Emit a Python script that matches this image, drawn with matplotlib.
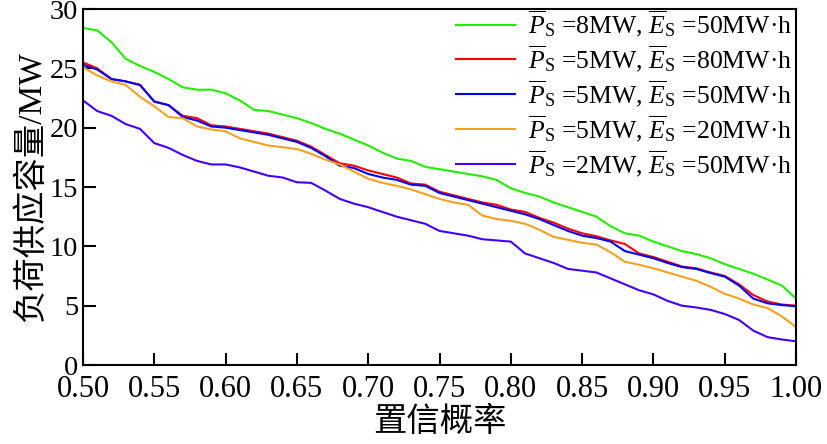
import numpy as np
import matplotlib
matplotlib.use('Agg')
import matplotlib.pyplot as plt

plt.rcParams['font.family'] = ['Liberation Serif', 'Noto Sans CJK SC']
plt.rcParams['mathtext.fontset'] = 'custom'
plt.rcParams['mathtext.rm'] = 'Liberation Serif'
plt.rcParams['mathtext.it'] = 'Liberation Serif:italic'

# 置信概率 0.50 ~ 1.00, 步长 0.01
prob = np.round(np.arange(0.50, 1.001, 0.01), 2)

# P=8MW, E=50MW·h
g_8_50 = [28.4, 28.2, 27.2, 25.8, 25.2, 24.7, 24.1, 23.4, 23.2, 23.2,
          22.9, 22.3, 21.5, 21.4, 21.1, 20.8, 20.4, 19.9, 19.5, 19.0,
          18.5, 17.9, 17.4, 17.2, 16.7, 16.5, 16.3, 16.1, 15.9, 15.6,
          14.9, 14.5, 14.2, 13.7, 13.3, 12.9, 12.5, 11.7, 11.1, 10.9,
          10.4, 10.0, 9.6, 9.35, 9.0, 8.5, 8.1, 7.7, 7.2, 6.7,
          5.6]
# P=5MW, E=80MW·h
r_5_80 = [25.5, 25.0, 24.1, 23.9, 23.6, 22.2, 21.9, 21.0, 20.8, 20.2,
          20.1, 19.9, 19.7, 19.5, 19.2, 18.9, 18.4, 17.7, 17.0, 16.8,
          16.4, 16.1, 15.8, 15.3, 15.2, 14.6, 14.3, 14.0, 13.7, 13.5,
          13.1, 12.9, 12.4, 12.0, 11.5, 11.1, 10.85, 10.5, 10.2, 9.4,
          9.1, 8.7, 8.3, 8.15, 7.8, 7.5, 6.8, 5.9, 5.35, 5.1,
          5.0]
# P=5MW, E=50MW·h
b_5_50 = [25.3, 24.9, 24.1, 23.9, 23.6, 22.2, 21.9, 20.9, 20.6, 20.1,
          20.0, 19.8, 19.6, 19.4, 19.1, 18.8, 18.3, 17.6, 16.8, 16.6,
          16.1, 15.8, 15.6, 15.2, 15.1, 14.5, 14.2, 13.9, 13.6, 13.3,
          13.0, 12.7, 12.3, 11.8, 11.3, 10.9, 10.7, 10.4, 9.6, 9.3,
          9.0, 8.6, 8.25, 8.1, 7.75, 7.45, 6.7, 5.6, 5.2, 5.05,
          4.95]
# P=5MW, E=20MW·h
o_5_20 = [25.1, 24.4, 23.9, 23.6, 22.6, 21.8, 20.9, 20.8, 20.1, 19.85,
          19.7, 19.1, 18.8, 18.5, 18.35, 18.2, 17.8, 17.3, 16.9, 16.3,
          15.7, 15.35, 15.1, 14.8, 14.4, 14.0, 13.7, 13.5, 12.6, 12.3,
          12.15, 11.9, 11.4, 10.8, 10.55, 10.3, 10.15, 9.5, 8.7, 8.45,
          8.15, 7.8, 7.45, 7.1, 6.6, 6.0, 5.6, 5.1, 4.8, 4.1,
          3.2]
# P=2MW, E=50MW·h
p_2_50 = [22.3, 21.4, 21.0, 20.3, 19.9, 18.7, 18.3, 17.7, 17.2, 16.9,
          16.9, 16.65, 16.3, 15.95, 15.8, 15.4, 15.35, 14.7, 14.0, 13.6,
          13.3, 12.9, 12.5, 12.2, 11.9, 11.3, 11.1, 10.9, 10.6, 10.5,
          10.4, 9.4, 9.0, 8.6, 8.1, 7.95, 7.8, 7.3, 6.8, 6.3,
          5.95, 5.4, 5.0, 4.85, 4.65, 4.3, 3.8, 2.9, 2.35, 2.15,
          2.0]

labels = [r'$\overline{P}_{\mathrm{S}}$ =8MW, $\overline{E}_{\mathrm{S}}$ =50MW·h',
          r'$\overline{P}_{\mathrm{S}}$ =5MW, $\overline{E}_{\mathrm{S}}$ =80MW·h',
          r'$\overline{P}_{\mathrm{S}}$ =5MW, $\overline{E}_{\mathrm{S}}$ =50MW·h',
          r'$\overline{P}_{\mathrm{S}}$ =5MW, $\overline{E}_{\mathrm{S}}$ =20MW·h',
          r'$\overline{P}_{\mathrm{S}}$ =2MW, $\overline{E}_{\mathrm{S}}$ =50MW·h']
colors = ['#22ee00', '#ff0000', '#0000ff', '#f5a020', '#4400ff']

fig = plt.figure(figsize=(8.28, 4.44), dpi=100)
ax = fig.add_axes([0.1002, 0.1779, 0.8612, 0.8018])

for y, c, lab in zip([g_8_50, r_5_80, b_5_50, o_5_20, p_2_50], colors, labels):
    ax.plot(prob, y, color=c, lw=1.5, label=lab)

ax.set_xlim(0.5, 1.0)
ax.set_ylim(0, 30)
ax.set_xticks(np.arange(0.5, 1.001, 0.05))
ax.set_xticklabels([f'{v:.2f}' for v in np.arange(0.5, 1.001, 0.05)])
ax.set_yticks(range(0, 31, 5))
ax.tick_params(direction='in', length=9, width=1.5, labelsize=20.5)
ax.tick_params(axis='x', labelsize=22, pad=7)
for s in ax.spines.values():
    s.set_linewidth(1.5)

ax.set_xlabel('置信概率', fontsize=24, labelpad=2)
ax.set_ylabel('负荷供应容量/MW', fontsize=24, labelpad=2)

ax.legend(loc='upper right', bbox_to_anchor=(1.0, 1.012), frameon=False,
          fontsize=18.5, handlelength=2.3, handletextpad=0.5,
          labelspacing=0.17, borderaxespad=0.0, borderpad=0.15)

fig.savefig('out.png', dpi=100)
